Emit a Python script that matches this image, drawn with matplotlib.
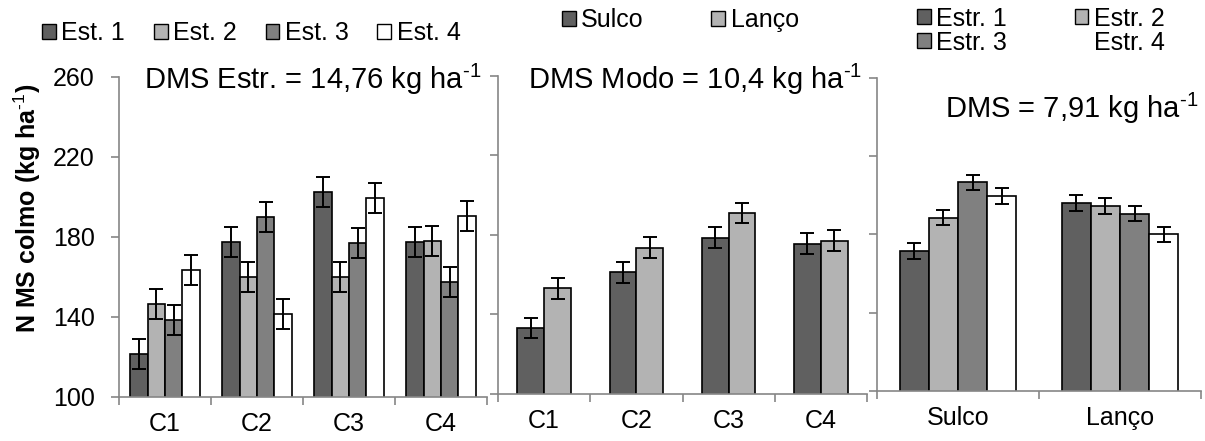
import numpy as np
import matplotlib
matplotlib.use('Agg')
import matplotlib.pyplot as plt
from matplotlib.patches import Patch

plt.rcParams['font.family'] = ['Liberation Sans', 'DejaVu Sans']
plt.rcParams['mathtext.fontset'] = 'custom'
plt.rcParams['mathtext.rm'] = 'Liberation Sans'
plt.rcParams['mathtext.bf'] = 'Liberation Sans:bold'
plt.rcParams['mathtext.default'] = 'regular'

# N na MS do colmo (kg/ha)
cultivares = ['C1', 'C2', 'C3', 'C4']
estrategias = ['Est. 1', 'Est. 2', 'Est. 3', 'Est. 4']
est_valores = [
    [121.5, 177.5, 202.5, 177.5],
    [146.5, 160.0, 160.0, 178.0],
    [138.5, 190.0, 177.0, 157.5],
    [163.5, 141.5, 199.5, 190.5],
]
dms_estr = 14.76

modos = ['Sulco', 'Lanço']
modo_valores = [
    [133.0, 161.0, 178.5, 175.5],
    [153.0, 173.5, 191.0, 177.0],
]
dms_modo = 10.4

estr_nomes = ['Estr. 1', 'Estr. 2', 'Estr. 3', 'Estr. 4']
estr_modo_valores = [
    [171.5, 196.0],
    [188.5, 194.5],
    [206.5, 190.5],
    [199.5, 180.0],
]
dms_geral = 7.91

cores = ['#606060', '#b3b3b3', '#808080', '#ffffff']
cinza = '#868686'

fig = plt.figure(figsize=(12.05, 4.41), dpi=100)
ax1 = fig.add_axes([119 / 1205, 1 - 397 / 441, 368 / 1205, 320 / 441])
ax2 = fig.add_axes([498 / 1205, 1 - 393.5 / 441, 369 / 1205, 317.5 / 441])
ax3 = fig.add_axes([877 / 1205, 1 - 391 / 441, 324 / 1205, 313.5 / 441])


def barras(ax, cats, series, largura, dms):
    x = np.arange(len(cats)) + 0.5
    n = len(series)
    for i, vals in enumerate(series):
        pos = x + (i - (n - 1) / 2) * largura
        ax.bar(pos, vals, largura, color=cores[i], edgecolor='black',
               linewidth=1.2, zorder=2)
        ax.errorbar(pos, vals, yerr=dms / 2, fmt='none', ecolor='black',
                    elinewidth=1.4, capsize=5, capthick=1.4, zorder=3)
    ax.set_xlim(0, len(cats))
    ax.set_ylim(100, 260)
    ax.set_yticks([100, 140, 180, 220, 260])
    ax.set_xticks(x)
    ax.set_xticklabels(cats)
    ax.set_xticks(np.arange(len(cats) + 1), minor=True)
    ax.tick_params(axis='x', which='major', length=0, pad=11, labelsize=18)
    ax.tick_params(axis='x', which='minor', length=6, color=cinza, width=1.2)
    ax.tick_params(axis='y', length=5.5, color=cinza, width=1.2, labelsize=18,
                   pad=12)
    for s in ['top', 'right']:
        ax.spines[s].set_visible(False)
    for s in ['left', 'bottom']:
        ax.spines[s].set_color(cinza)
        ax.spines[s].set_linewidth(1.2)


barras(ax1, cultivares, est_valores, 0.188, dms_estr)
barras(ax2, cultivares, modo_valores, 0.29, dms_modo)
barras(ax3, modos, estr_modo_valores, 0.18, dms_geral)
ax2.set_yticklabels([])
ax3.set_yticklabels([])

sup = r'$^{\text{-1}}$'

fig.text(0.023, 1 - 208 / 441, 'N MS colmo (kg ha' + sup + ')',
         rotation=90, ha='center', va='center', fontsize=18, fontweight='bold')

ax1.text(0.068, 0.9625, 'DMS Estr. = 14,76 kg ha' + sup, transform=ax1.transAxes,
         fontsize=21, va='baseline', ha='left')
ax2.text(0.081, 0.959, 'DMS Modo = 10,4 kg ha' + sup, transform=ax2.transAxes,
         fontsize=21, va='baseline', ha='left')
ax3.text(0.21, 0.871, 'DMS = 7,91 kg ha' + sup, transform=ax3.transAxes,
         fontsize=21, va='baseline', ha='left')

leg_kw = dict(frameon=False, fontsize=18, handlelength=0.55, handleheight=0.55,
              handletextpad=0.22, borderpad=0, borderaxespad=0, labelspacing=0.0)

h1 = [Patch(facecolor=cores[i], edgecolor='black', linewidth=1) for i in range(4)]
fig.legend(h1, estrategias, loc='center left', ncol=4, columnspacing=1.15,
           bbox_to_anchor=(42 / 1205, 1 - 33 / 441), **leg_kw)

h2 = [Patch(facecolor=cores[i], edgecolor='black', linewidth=1) for i in range(2)]
fig.legend(h2, modos, loc='center left', ncol=2, columnspacing=2.7,
           bbox_to_anchor=(562 / 1205, 1 - 20 / 441), **leg_kw)

h3 = [Patch(facecolor=cores[i], edgecolor='black', linewidth=1) for i in range(3)]
h3.append(Patch(facecolor='white', edgecolor='white'))
fig.legend([h3[0], h3[2], h3[1], h3[3]],
           [estr_nomes[0], estr_nomes[2], estr_nomes[1], estr_nomes[3]],
           loc='center left', ncol=2, columnspacing=2.7,
           bbox_to_anchor=(917 / 1205, 1 - 30.5 / 441), **leg_kw)

fig.savefig('out.png', dpi=100)
